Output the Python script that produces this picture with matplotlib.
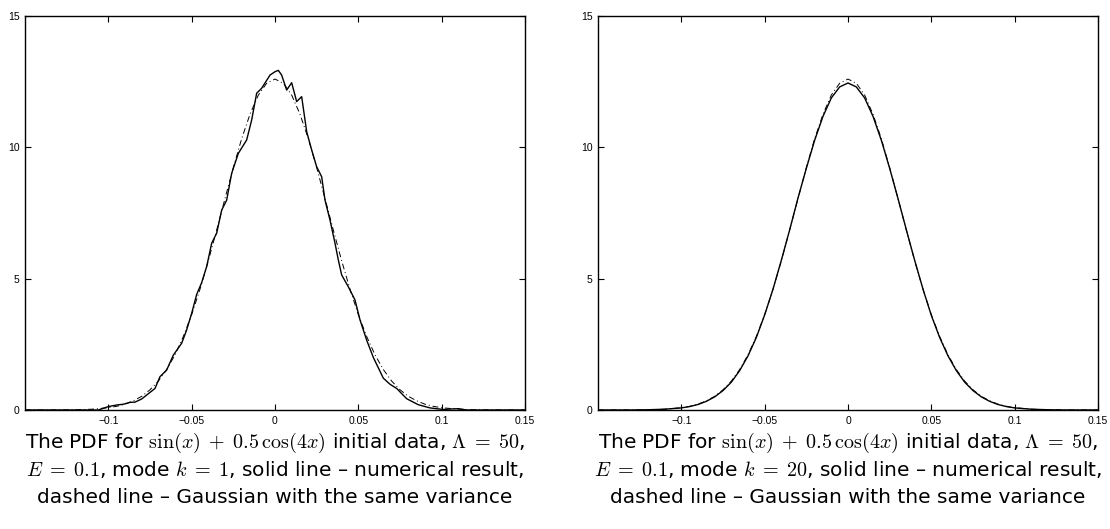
import matplotlib
matplotlib.use("Agg")
import matplotlib.pyplot as plt

plt.rcParams['mathtext.fontset'] = 'cm'
plt.rcParams['font.family'] = ['DejaVu Sans']

# mode k = 1 : numerical PDF (solid)
x_num1 = [-0.15, -0.12, -0.106, -0.100, -0.095, -0.091, -0.087, -0.084, -0.080, -0.077,
          -0.072, -0.069, -0.065, -0.061, -0.056, -0.053, -0.050, -0.047, -0.044, -0.041,
          -0.038, -0.035, -0.032, -0.029, -0.026, -0.022, -0.017, -0.014, -0.011, -0.008,
          -0.003, 0.000, 0.002, 0.004, 0.007, 0.010, 0.013, 0.016, 0.019, 0.022,
          0.025, 0.028, 0.030, 0.033, 0.036, 0.038, 0.040, 0.044, 0.048, 0.051,
          0.055, 0.059, 0.065, 0.069, 0.073, 0.079, 0.086, 0.093, 0.101, 0.106,
          0.110, 0.115, 0.15]
y_num1 = [0, 0, 0.0, 0.13, 0.19, 0.22, 0.29, 0.30, 0.42, 0.57,
          0.82, 1.27, 1.52, 2.09, 2.54, 3.05, 3.68, 4.40, 4.85, 5.46,
          6.35, 6.73, 7.61, 7.99, 9.01, 9.77, 10.28, 11.04, 12.06, 12.25,
          12.75, 12.88, 12.93, 12.75, 12.18, 12.46, 11.74, 11.93, 10.60, 9.90,
          9.26, 8.88, 7.99, 7.23, 6.35, 5.71, 5.14, 4.69, 4.19, 3.43,
          2.66, 2.00, 1.21, 0.98, 0.82, 0.43, 0.20, 0.08, 0.02, 0.04,
          0.05, 0.0, 0]

# Gaussian with the same variance (dash-dot), same for both panels
x_gauss = [-0.15, -0.13, -0.12, -0.11, -0.10, -0.095, -0.09, -0.085, -0.08, -0.075,
           -0.07, -0.065, -0.06, -0.055, -0.05, -0.045, -0.04, -0.035, -0.03, -0.025,
           -0.02, -0.015, -0.01, -0.005, 0.0, 0.005, 0.01, 0.015, 0.02, 0.025,
           0.03, 0.035, 0.04, 0.045, 0.05, 0.055, 0.06, 0.065, 0.07, 0.075,
           0.08, 0.085, 0.09, 0.095, 0.10, 0.11, 0.12, 0.13, 0.15]
y_gauss = [0.0, 0.002, 0.008, 0.03, 0.087, 0.14, 0.22, 0.35, 0.52, 0.77,
           1.10, 1.54, 2.10, 2.80, 3.63, 4.60, 5.68, 6.85, 8.05, 9.23,
           10.33, 11.26, 11.99, 12.44, 12.60, 12.44, 11.99, 11.26, 10.33, 9.23,
           8.05, 6.85, 5.68, 4.60, 3.63, 2.80, 2.10, 1.54, 1.10, 0.77,
           0.52, 0.35, 0.22, 0.14, 0.087, 0.03, 0.008, 0.002, 0.0]

# mode k = 20 : numerical PDF (solid)
x_num20 = x_gauss
y_num20 = [0.0, 0.0, 0.01, 0.03, 0.08, 0.13, 0.21, 0.33, 0.50, 0.74,
           1.06, 1.50, 2.06, 2.76, 3.62, 4.60, 5.70, 6.86, 8.07, 9.20,
           10.27, 11.18, 11.88, 12.30, 12.45, 12.30, 11.88, 11.18, 10.27, 9.20,
           8.05, 6.86, 5.70, 4.60, 3.60, 2.76, 2.06, 1.50, 1.06, 0.74,
           0.50, 0.33, 0.21, 0.13, 0.08, 0.03, 0.01, 0.0, 0.0]

xticks = [-0.1, -0.05, 0, 0.05, 0.1, 0.15]
xticklabels = ['\u22120.1', '\u22120.05', '0', '0.05', '0.1', '0.15']
yticks = [0, 5, 10, 15]

captions = [
    ["The PDF for $\\sin(x)\\;+\\;0.5\\,\\cos(4x)$ initial data, $\\Lambda\\;=\\;50$,",
     "$E\\;=\\;0.1$, mode $k\\;=\\;1$, solid line \u2013 numerical result,",
     "dashed line \u2013 Gaussian with the same variance"],
    ["The PDF for $\\sin(x)\\;+\\;0.5\\,\\cos(4x)$ initial data, $\\Lambda\\;=\\;50$,",
     "$E\\;=\\;0.1$, mode $k\\;=\\;20$, solid line \u2013 numerical result,",
     "dashed line \u2013 Gaussian with the same variance"],
]
baselines = [448, 476, 503]

fig = plt.figure(figsize=(11.1, 5.29), dpi=100)
W, H = 1110, 529
boxes = [[25 / W, 119 / H, 500 / W, 394 / H], [598 / W, 119 / H, 500 / W, 394 / H]]
solids = [(x_num1, y_num1), (x_num20, y_num20)]

for i in range(2):
    ax = fig.add_axes(boxes[i])
    ax.plot(x_gauss, y_gauss, color='black', lw=0.7, linestyle=(0, (6, 3, 1, 3)))
    ax.plot(solids[i][0], solids[i][1], color='black', lw=1.0)
    ax.set_xlim(-0.15, 0.15)
    ax.set_ylim(0, 15)
    ax.set_xticks(xticks)
    ax.set_xticklabels(xticklabels)
    ax.set_yticks(yticks)
    ax.tick_params(direction='in', top=True, right=True, length=4, width=0.8,
                   labelsize=7.5, pad=4)
    for lab in ax.get_xticklabels() + ax.get_yticklabels():
        lab.set_family('Liberation Sans')
    for s in ax.spines.values():
        s.set_linewidth(1.0)
    cx = boxes[i][0] + boxes[i][2] / 2
    for line, yb in zip(captions[i], baselines):
        fig.text(cx, 1 - yb / H, line, ha='center', va='baseline', fontsize=14.5)

fig.savefig('out.png', dpi=100)
